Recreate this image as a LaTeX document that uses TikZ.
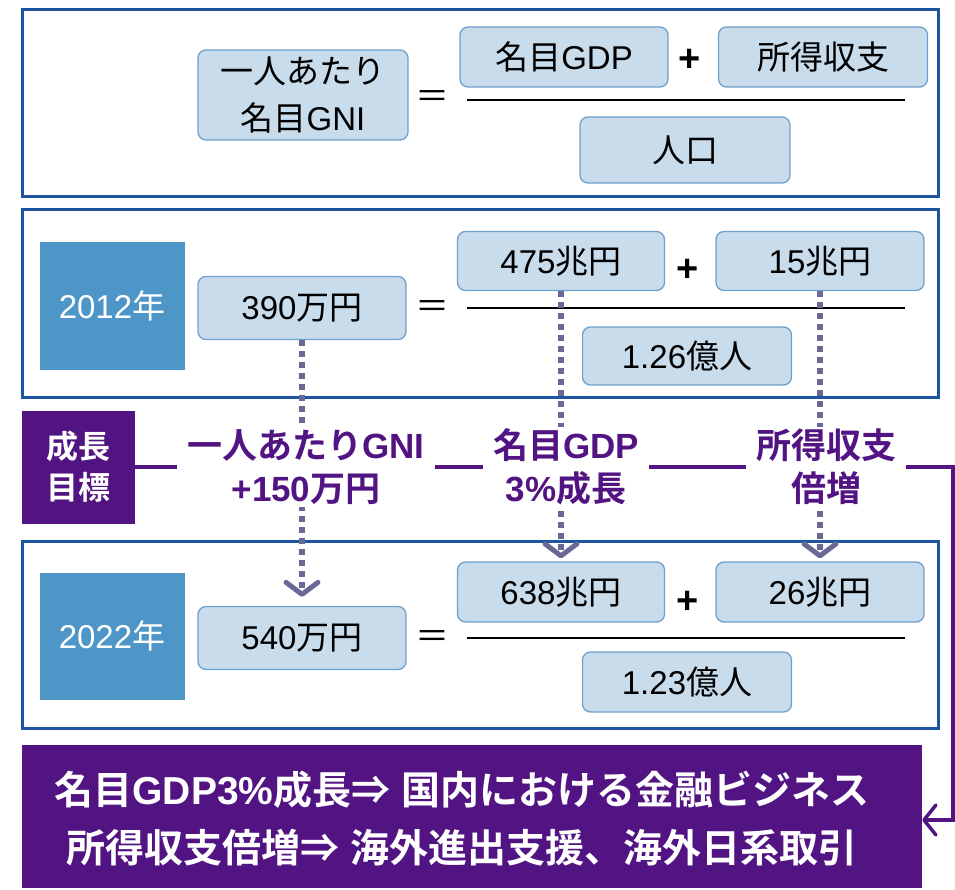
\documentclass[tikz,border=0pt]{standalone}
\usepackage{fontspec}
\setmainfont{Liberation Sans}
\newfontfamily\jpf{Noto Sans CJK JP}[BoldFont={Noto Sans CJK JP Bold}]
\newcommand\jp[1]{{\jpf #1}}
\usetikzlibrary{arrows.meta}
\definecolor{frameblue}{RGB}{30,85,160}
\definecolor{boxfill}{RGB}{200,220,236}
\definecolor{boxline}{RGB}{110,160,205}
\definecolor{yearblue}{RGB}{79,150,200}
\definecolor{purp}{RGB}{82,20,130}
\definecolor{dotc}{RGB}{105,105,150}
\begin{document}
\begin{tikzpicture}[x=1pt,y=-1pt,
 frame/.style={draw=frameblue,line width=3pt},
 vbox/.style={rounded corners=8pt,fill=boxfill,draw=boxline,line width=1.3pt,minimum width=208pt,minimum height=60pt,font=\fontsize{33}{47}\selectfont,align=center,inner sep=0pt},
 yearbox/.style={fill=yearblue,text=white,minimum width=145pt,minimum height=127pt,font=\fontsize{33}{40}\selectfont,inner sep=0pt},
 eqs/.style={font=\fontsize{34}{40}\selectfont,inner sep=0pt},
 pluss/.style={font=\fontsize{38}{40}\selectfont\bfseries,inner sep=0pt},
 frac/.style={line width=1.5pt},
 dotarrow/.style={draw=dotc,line width=5.5pt,dash pattern=on 5.5pt off 5.5pt,-{Straight Barb[length=12pt,width=32pt,line width=5pt,round]}},
 goal/.style={fill=white,text=purp,font=\fontsize{35}{43}\selectfont\bfseries,align=center,inner xsep=10pt,inner ysep=2pt},
 conn/.style={draw=purp,line width=4pt},
 purpbox/.style={fill=purp,text=white,inner sep=0pt}
]
\useasboundingbox (0,0) rectangle (955,890);
% frames
\draw[frame] (22,10) rectangle (938,197);
\draw[frame] (22,210) rectangle (938,397);
\draw[frame] (22,541) rectangle (938,728);

% box 1
\node[vbox,minimum width=210pt,minimum height=90pt] (gni) at (303,95) {\jp{一人あたり}\\\jp{名目}GNI};
\node[eqs] (eq1) at (432,100) {\jp{＝}};
\node[vbox] (gdp) at (564,57) {\jp{名目}GDP};
\node[pluss] (plus1) at (690,60) {+};
\node[vbox,minimum width=209pt] (inc) at (823,57) {\jp{所得収支}};
\node[vbox,minimum width=210pt,minimum height=66pt] (pop) at (685,150) {\jp{人口}};
\draw[frac] (467,100) -- (905,100);

% box 2
\node[yearbox] (y2012) at (112,306) {2012\jp{年}};
\node[vbox,minimum height=63pt] (v390) at (302,308) {390\jp{万円}};
\node[eqs] (eq2) at (432,310) {\jp{＝}};
\node[vbox,minimum width=207pt,minimum height=59pt] (v475) at (561,261) {475\jp{兆円}};
\node[pluss] (plus2) at (688,270) {+};
\node[vbox,minimum height=59pt] (v15) at (820,261) {15\jp{兆円}};
\draw[frac] (467,308) -- (905,308);
\node[vbox,minimum width=209pt,minimum height=58pt] (v126) at (687,356) {1.26\jp{億人}};

% box 3
\node[yearbox] (y2022) at (112,636) {2022\jp{年}};
\node[vbox,minimum height=63pt] (v540) at (302,638) {540\jp{万円}};
\node[eqs] (eq3) at (432,640) {\jp{＝}};
\node[vbox,minimum width=207pt] (v638) at (561,592) {638\jp{兆円}};
\node[pluss] (plus3) at (688,602) {+};
\node[vbox] (v26) at (820,592) {26\jp{兆円}};
\draw[frac] (467,638) -- (905,638);
\node[vbox,minimum width=209pt] (v123) at (687,682) {1.23\jp{億人}};

% dotted arrows
\draw[dotarrow] (v390.south) -- ([yshift=9pt]v540.north);
\draw[dotarrow] (v475.south) -- ([yshift=3pt]v638.north);
\draw[dotarrow] (v15.south) -- ([yshift=3pt]v26.north);

% goals
\node[purpbox,minimum width=113pt,minimum height=113pt,font=\fontsize{32}{41}\selectfont\bfseries,align=center] (goalbox) at (78,467) {\jp{成長}\\\jp{目標}};
\node[goal] (g1) at (306,467) {\jp{一人あたり}GNI\\+150\jp{万円}};
\node[goal] (g2) at (566,467) {\jp{名目}GDP\\3\%\jp{成長}};
\node[goal] (g3) at (826,467) {\jp{所得収支}\\\jp{倍増}};

% bottom
\node[purpbox,minimum width=900pt,minimum height=143pt] (bottom) at (472,816) {};
\node[text=white,font=\fontsize{39}{58}\selectfont\bfseries,align=center,inner sep=0pt] (btext) at (462,819) {\jp{名目}GDP3\%\jp{成長⇒} \jp{国内における金融ビジネス}\\\jp{所得収支倍増⇒} \jp{海外進出支援、海外日系取引}};

% connectors
\coordinate (corner) at (953,820);
\draw[conn] (goalbox.east) -- (g1.west);
\draw[conn] (g1.east) -- (g2.west);
\draw[conn] (g2.east) -- (g3.west);
\draw[conn,line width=3.5pt,-{Straight Barb[length=12pt,width=30pt,line width=3.5pt,round]}] (g3.east) -| (corner) -- (bottom.east |- corner);
\end{tikzpicture}
\end{document}
